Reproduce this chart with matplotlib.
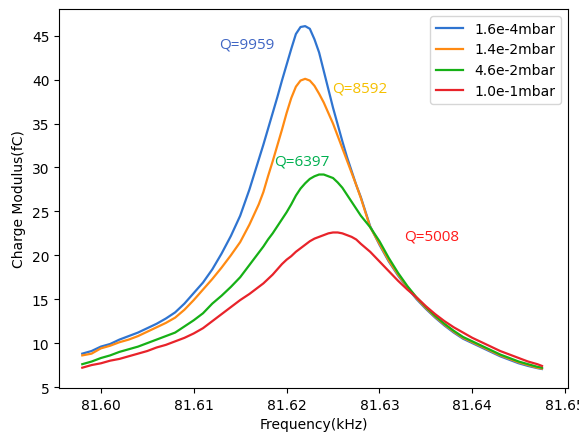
import matplotlib
matplotlib.use("Agg")
import matplotlib.pyplot as plt

# frequency sweep (kHz) (denser around the peaks)
freq = [81.598, 81.599, 81.600, 81.601, 81.602, 81.603, 81.604, 81.605, 81.606, 81.607,
        81.608, 81.609, 81.610, 81.611, 81.612, 81.613, 81.614, 81.615, 81.616, 81.617,
        81.6175, 81.618, 81.6185, 81.619, 81.6195, 81.620, 81.6205, 81.621, 81.6215, 81.622,
        81.6225, 81.623, 81.6235, 81.624, 81.6245, 81.625, 81.6255, 81.626, 81.6265, 81.627,
        81.6275, 81.628, 81.629, 81.630, 81.631, 81.632, 81.633, 81.634, 81.635, 81.636,
        81.637, 81.638, 81.639, 81.640, 81.641, 81.642, 81.643, 81.644, 81.645, 81.646,
        81.647, 81.6475]

# charge modulus (fC) for each pressure
q_16e4 = [8.8, 9.1, 9.6, 9.9, 10.4, 10.8, 11.2, 11.7, 12.2, 12.8,
          13.5, 14.5, 15.7, 16.9, 18.4, 20.2, 22.2, 24.5, 27.5, 30.9,
          32.6, 34.4, 36.2, 38.0, 39.9, 41.7, 43.5, 45.2, 46.0, 46.1,
          45.8, 44.6, 43.1, 41.0, 38.9, 36.8, 34.9, 33.0, 31.2, 29.6,
          28.0, 26.6, 23.3, 21.2, 19.3, 17.7, 16.3, 15.0, 13.9, 12.9,
          12.0, 11.2, 10.5, 10.0, 9.5, 9.0, 8.5, 8.1, 7.7, 7.4,
          7.15, 7.05]
q_14e2 = [8.6, 8.8, 9.4, 9.7, 10.1, 10.4, 10.8, 11.3, 11.8, 12.3,
          12.9, 13.8, 14.9, 16.1, 17.3, 18.6, 20.0, 21.5, 23.5, 25.8,
          27.2, 29.0, 30.7, 32.5, 34.3, 36.2, 37.9, 39.2, 39.9, 40.1,
          39.9, 39.3, 38.4, 37.4, 36.2, 35.0, 33.6, 32.2, 30.8, 29.4,
          28.0, 26.5, 23.2, 21.3, 19.4, 17.8, 16.4, 15.1, 14.0, 13.0,
          12.1, 11.3, 10.6, 10.1, 9.6, 9.1, 8.6, 8.2, 7.8, 7.5,
          7.2, 7.1]
q_46e2 = [7.6, 7.9, 8.3, 8.6, 9.0, 9.3, 9.6, 10.0, 10.4, 10.8,
          11.2, 11.9, 12.6, 13.4, 14.5, 15.4, 16.4, 17.5, 18.9, 20.3,
          21.0, 21.8, 22.5, 23.3, 24.1, 24.9, 25.8, 26.8, 27.6, 28.2,
          28.7, 29.0, 29.2, 29.2, 29.0, 28.8, 28.3, 27.7, 26.9, 26.1,
          25.3, 24.5, 23.2, 21.6, 19.7, 18.0, 16.5, 15.2, 14.1, 13.1,
          12.2, 11.4, 10.7, 10.2, 9.7, 9.2, 8.7, 8.3, 7.9, 7.6,
          7.3, 7.2]
q_10e1 = [7.2, 7.5, 7.7, 8.0, 8.2, 8.5, 8.8, 9.1, 9.5, 9.8,
          10.2, 10.6, 11.1, 11.7, 12.5, 13.3, 14.1, 14.9, 15.6, 16.4,
          16.8, 17.3, 17.8, 18.4, 19.0, 19.5, 19.9, 20.4, 20.8, 21.2,
          21.6, 21.9, 22.1, 22.3, 22.5, 22.6, 22.6, 22.5, 22.3, 22.1,
          21.8, 21.3, 20.4, 19.3, 18.2, 17.1, 16.1, 15.2, 14.2, 13.3,
          12.5, 11.8, 11.2, 10.6, 10.1, 9.6, 9.1, 8.7, 8.3, 7.9,
          7.6, 7.4]

labels = ["1.6e-4mbar", "1.4e-2mbar", "4.6e-2mbar", "1.0e-1mbar"]
colors = ["#2f74d0", "#ff8a12", "#16b016", "#e8232a"]

# Q annotations: text, x, y, colour
q_text = ["Q=9959", "Q=8592", "Q=6397", "Q=5008"]
q_x = [81.6157, 81.6279, 81.6216, 81.63565]
q_y = [44.1, 39.1, 30.7, 22.2]
q_col = ["#4066c4", "#f5c000", "#00b050", "#ff1a1a"]

fig = plt.figure(figsize=(5.79, 4.35), dpi=100)
ax = fig.add_axes([0.102, 0.106, 0.879, 0.871])

for ys, lab, c in zip([q_16e4, q_14e2, q_46e2, q_10e1], labels, colors):
    ax.plot(freq, ys, color=c, linewidth=1.6, label=lab)

for t, x, y, c in zip(q_text, q_x, q_y, q_col):
    ax.text(x, y, t, color=c, fontsize=11, family="Open Sans", ha="center", va="center")

ax.set_xlim(81.5955, 81.6503)
ax.set_ylim(4.9, 48.05)
ax.set_xticks([81.60, 81.61, 81.62, 81.63, 81.64, 81.65])
ax.set_xticklabels(["81.60", "81.61", "81.62", "81.63", "81.64", "81.65"])
ax.set_yticks([5, 10, 15, 20, 25, 30, 35, 40, 45])
ax.set_xlabel("Frequency(kHz)")
ax.set_ylabel("Charge Modulus(fC)")
ax.legend(loc="upper right")

fig.savefig("out.png", dpi=100)
